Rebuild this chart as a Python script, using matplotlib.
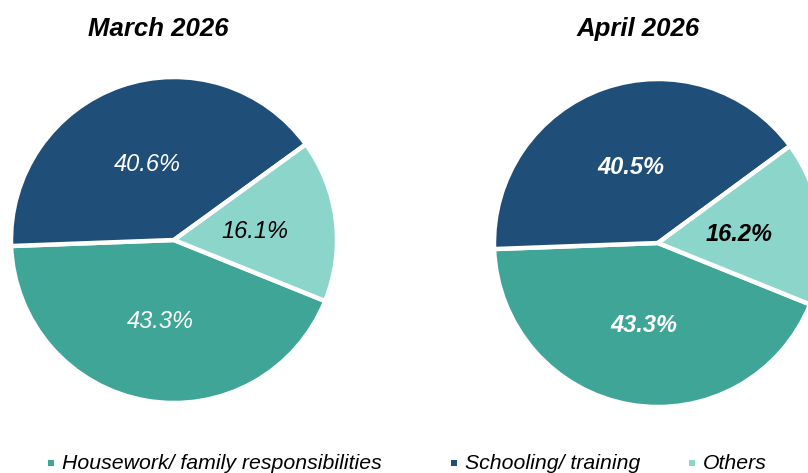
import matplotlib
matplotlib.use("Agg")
import matplotlib.pyplot as plt
from matplotlib.patches import Rectangle
import numpy as np

plt.rcParams['font.family'] = ['Liberation Sans', 'DejaVu Sans']

categories = ["Housework/ family responsibilities", "Schooling/ training", "Others"]
march_values = [43.3, 40.6, 16.1]
april_values = [43.3, 40.5, 16.2]
titles = ["March 2026", "April 2026"]
colors = ["#3EA597", "#1F4E79", "#8BD5CB"]
label_colors = ["white", "white", "black"]

W, H = 808, 473
fig = plt.figure(figsize=(W / 100, H / 100), dpi=100)

def add_pie(cx, cy, r, values, weight):
    ax = fig.add_axes([(cx - r) / W, (H - cy - r) / H, 2 * r / W, 2 * r / H])
    ax.pie(values, colors=colors, startangle=-22, counterclock=False,
           radius=1.0, wedgeprops=dict(edgecolor="white", linewidth=3.2))
    total = sum(values)
    cum = 0
    start = -22
    for v, tc in zip(values, label_colors):
        mid = np.deg2rad(start - (cum + v / 2) / total * 360)
        ax.text(0.5 * np.cos(mid), 0.5 * np.sin(mid) - 0.01, f"{v:.1f}%", ha="center", va="center",
                color=tc, fontsize=17, fontstyle="italic", fontweight=weight)
        cum += v
    ax.set_xlim(-1, 1)
    ax.set_ylim(-1, 1)
    ax.set_aspect("equal")
    ax.axis("off")
    return ax

add_pie(174, 240, 163, march_values, "normal")
add_pie(658, 243, 164, april_values, "bold")

fig.text(158 / W, 1 - 29 / H, titles[0], ha="center", va="center", fontsize=18.5,
         fontweight="bold", fontstyle="italic")
fig.text(638 / W, 1 - 29 / H, titles[1], ha="center", va="center", fontsize=18.5,
         fontweight="bold", fontstyle="italic")

legend_x = [48, 451, 689]
for x, lab, c in zip(legend_x, categories, colors):
    fig.patches.append(Rectangle((x / W, 1 - 466 / H), 6 / W, 6 / H, transform=fig.transFigure,
                                 facecolor=c, edgecolor="none"))
    fig.text((x + 14) / W, 1 - 463 / H, lab, ha="left", va="center", fontsize=15.3,
             fontstyle="italic")

fig.savefig("out.png", dpi=100)
